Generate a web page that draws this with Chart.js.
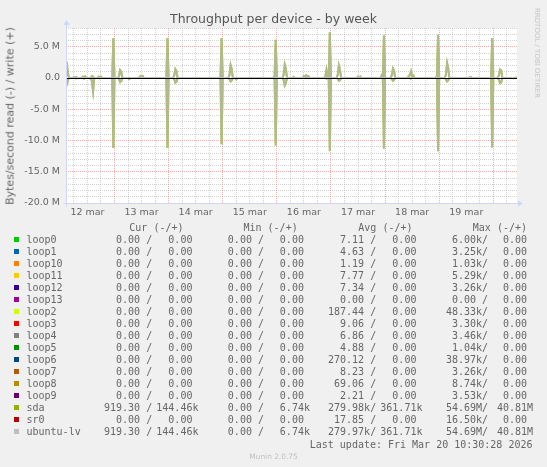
<!DOCTYPE html>
<html><head><meta charset="utf-8">
<script src="https://cdn.jsdelivr.net/npm/chart.js@4.4.1/dist/chart.umd.min.js"></script>
<style>
html,body{margin:0;padding:0;background:#F0F0F0;}
#wrap{position:relative;width:547px;height:467px;overflow:hidden;background:#F0F0F0;}
#c{position:absolute;left:0;top:0;}
.t{position:absolute;white-space:pre;color:#666;}
.mono{font-family:"DejaVu Sans Mono",monospace;font-size:10px;line-height:12px;}
.sw{position:absolute;width:5px;height:5px;}
</style></head><body>
<div id="wrap"><canvas id="c" width="547" height="467"></canvas></div>
<script>
// ---- chart data (values in millions of bytes/second) ----
const dayLabels = ['12 mar','13 mar','14 mar','15 mar','16 mar','17 mar','18 mar','19 mar'];
// hours since 12 mar 00:00 (30-minute samples around each burst; flat zero in between)
const hours = [
  2.5,3,3.5,4,  5.5,6,6.5,7,7.5,  9.5,10,10.5,11,11.5,  13,13.5,14,14.5,15,15.5,  16.5,17,17.5,18,18.5,
  23,23.5,24,  25.5,26,26.5,27,27.5,  30,30.5,31,  34.5,35,35.5,36,36.5,37,
  47,47.5,48,  50,50.5,51,51.5,52,
  71,71.5,72,  74.5,75,75.5,76,76.5,  77.5,78,78.5,
  94.5,95,95.5,96,  98.5,99,99.5,100,100.5,  103,103.5,104,  107.5,108,108.5,109,109.5,110,110.5,
  117,117.5,118,118.5,119,119.5,120,  122.5,123,123.5,124,124.5,  131.5,132,132.5,133,133.5,
  142,142.5,143,143.5,144,  146.5,147,147.5,148,148.5,  154,154.5,155,155.5,156,156.5,157,
  166.5,167,167.5,168,  170.5,171,171.5,172,172.5,  181,181.5,182,182.5,
  191,191.5,192,  194,194.5,195,195.5,196,  202,202.5
];
const sdaWriteM = [
  1.0,1.8,0.4,0,  0,0.15,0,0.15,0,  0,0.2,0.05,0.25,0,  0,0,0.3,0.2,0,0,  0,0.2,0,0.2,0,
  0,6.4,0,  0,0.3,1.25,1.0,0,  0,0,0,  0,0.1,0.3,0.15,0.3,0,
  0,6.4,0,  0,0.4,1.4,1.1,0,
  0,6.4,0,  0,0.5,2.05,1.4,0,  0,0,0,
  0,0.3,6.1,0,  0,0.5,2.15,1.5,0,  0,0.15,0,  0,0.3,0.1,0.4,0.2,0.3,0,
  0,0.2,1.3,0.2,0,7.3,0,  0,0.5,2.0,1.3,0,  0,0.2,0.05,0.2,0,
  0,0.4,0,6.8,0,  0,0.5,1.5,1.1,0,  0,0.3,0.5,1.05,0.3,0.4,0,
  0,0.3,6.9,0,  0,0.6,2.4,1.6,0,  0,0.1,0.15,0,
  0,6.4,0,  0,0.5,1.35,1.2,0,  0,0.14
];
// read magnitudes (drawn below zero)
const sdaReadM = [
  0.4,0.85,0.15,0,  0,0,0,0.05,0,  0,0,0.1,0,0,  0,0.1,0.5,2.1,0.1,0,  0,0,0,0,0,
  0,11.2,0,  0,0.15,0.65,0.5,0,  0,0.15,0,  0,0,0,0,0,0,
  0,11.2,0,  0,0.2,0.75,0.6,0,
  0,10.6,0,  0,0.2,0.55,0.4,0,  0,0.2,0,
  0,0,10.8,0,  0,0.3,1.2,0.8,0,  0,0,0,  0,0,0,0,0,0,0,
  0,0,0.1,0,0,11.7,0,  0,0.1,0.45,0.35,0,  0,0,0,0,0,
  0,0,0,11.3,0,  0,0.15,0.45,0.3,0,  0,0,0,0.1,0,0,0,
  0,0,11.7,0,  0,0.2,0.55,0.4,0,  0,0,0,0,
  0,11.1,0,  0,0.3,0.8,0.7,0,  0,0.001
];
// ubuntu-lv carries the same traffic as sda at this resolution
const lvWriteM = sdaWriteM;
const lvReadM = sdaReadM;

// ---- legend table ----
const devices = ['loop0','loop1','loop10','loop11','loop12','loop13','loop2','loop3','loop4','loop5','loop6','loop7','loop8','loop9','sda','sr0','ubuntu-lv'];
const deviceColors = ['#00CC00','#0066B3','#FF8000','#FFCC00','#330099','#990099','#CCFF00','#FF0000','#808080','#008F00','#00487D','#B35A00','#B38F00','#6B006B','#8FB300','#B30000','#BEBEBE'];
const curRead  = ['0.00','0.00','0.00','0.00','0.00','0.00','0.00','0.00','0.00','0.00','0.00','0.00','0.00','0.00','919.30','0.00','919.30'];
const curWrite = ['0.00','0.00','0.00','0.00','0.00','0.00','0.00','0.00','0.00','0.00','0.00','0.00','0.00','0.00','144.46k','0.00','144.46k'];
const minRead  = ['0.00','0.00','0.00','0.00','0.00','0.00','0.00','0.00','0.00','0.00','0.00','0.00','0.00','0.00','0.00','0.00','0.00'];
const minWrite = ['0.00','0.00','0.00','0.00','0.00','0.00','0.00','0.00','0.00','0.00','0.00','0.00','0.00','0.00','6.74k','0.00','6.74k'];
const avgRead  = ['7.11','4.63','1.19','7.77','7.34','0.00','187.44','9.06','6.86','4.88','270.12','8.23','69.06','2.21','279.98k','17.85','279.97k'];
const avgWrite = ['0.00','0.00','0.00','0.00','0.00','0.00','0.00','0.00','0.00','0.00','0.00','0.00','0.00','0.00','361.71k','0.00','361.71k'];
const maxRead  = ['6.00k','3.25k','1.03k','5.29k','3.26k','0.00','48.33k','3.30k','3.46k','1.04k','38.97k','3.26k','8.74k','3.53k','54.69M','16.50k','54.69M'];
const maxWrite = ['0.00','0.00','0.00','0.00','0.00','0.00','0.00','0.00','0.00','0.00','0.00','0.00','0.00','0.00','40.81M','0.00','40.81M'];
const colHeaders = ['Cur (-/+)','Min (-/+)','Avg (-/+)','Max (-/+)'];

// ---- HTML texts ----
const wrap = document.getElementById('wrap');
function addText(txt, cls, css){
  const d = document.createElement('div');
  d.className = 't ' + cls; d.textContent = txt;
  Object.assign(d.style, css); wrap.appendChild(d); return d;
}
addText('Throughput per device - by week','',{left:'0px',width:'547px',textAlign:'center',top:'11px',fontFamily:'"DejaVu Sans"',fontSize:'12.5px',lineHeight:'16px',color:'#555'});
addText('Bytes/second read (-) / write (+)','',{left:'10px',top:'116px',transform:'translate(-50%,-50%) rotate(-90deg)',fontFamily:'"DejaVu Sans"',fontSize:'11px',lineHeight:'13px'});
addText('RRDTOOL / TOBI OETIKER','',{left:'537px',top:'53px',transform:'translate(-50%,-50%) rotate(90deg)',fontFamily:'"DejaVu Sans"',fontSize:'7px',lineHeight:'8px',color:'#c4c4c4'});
addText('Munin 2.0.75','',{left:'0px',width:'547px',textAlign:'center',top:'452px',fontFamily:'"DejaVu Sans"',fontSize:'7.4px',lineHeight:'10px',color:'#c0c0c0'});

function tok(s, slash){
  const m = s.match(/^([\d.]+)([kM]?)$/);
  return m[1].padStart(6,' ') + (m[2] || ' ') + (slash ? '/' : '');
}
const headerX = [129.3,243.5,358.3,472.8];
const readX = [104,215.8,328,439.9];
const writeX = [156.3,267.8,380.3,490.9];
const rowY0 = 239.8, rowStep = 12;
colHeaders.forEach((h,i)=>addText(h,'mono',{left:headerX[i]+'px',top:(rowY0-rowStep-6)+'px'}));
const cols = [[curRead,curWrite],[minRead,minWrite],[avgRead,avgWrite],[maxRead,maxWrite]];
devices.forEach((name,r)=>{
  const cy = rowY0 + r*rowStep;
  const sw = document.createElement('div');
  sw.className='sw'; sw.style.left='14px'; sw.style.top=(cy-3)+'px'; sw.style.background=deviceColors[r];
  wrap.appendChild(sw);
  addText(name,'mono',{left:'26.5px',top:(cy-6)+'px'});
  cols.forEach((pair,c)=>{
    addText(tok(pair[0][r],true),'mono',{left:readX[c]+'px',top:(cy-6)+'px'});
    addText(tok(pair[1][r],false),'mono',{left:writeX[c]+'px',top:(cy-6)+'px'});
  });
});
addText('Last update: Fri Mar 20 10:30:28 2026','mono',{right:(547-532.5)+'px',top:(444.5-6)+'px'});

// ---- chart ----
const AXIS = '#CFD6F8';
const MINOR = 'rgba(150,150,150,0.42)';
const MAJOR = 'rgba(235,95,95,0.5)';
const pts = (vals, sign) => hours.map((h,i)=>({x:h, y:sign*vals[i]}));

const bgPlugin = {
  id:'bg',
  beforeDraw(chart){
    const {ctx, chartArea:a} = chart;
    ctx.save(); ctx.fillStyle='#FFFFFF';
    ctx.fillRect(a.left, a.top, a.right-a.left, a.bottom-a.top);
    ctx.restore();
  }
};
const overlayPlugin = {
  id:'overlay',
  afterDatasetsDraw(chart){
    const {ctx, chartArea:a, scales:{y}} = chart;
    ctx.save();
    const y0 = Math.round(y.getPixelForValue(0)) + 0.5;
    ctx.strokeStyle='#000'; ctx.lineWidth=1.2;
    ctx.beginPath(); ctx.moveTo(a.left, y0); ctx.lineTo(a.right, y0); ctx.stroke();
    ctx.strokeStyle=AXIS; ctx.fillStyle=AXIS; ctx.lineWidth=1;
    const lx = a.left + 0.5, by = a.bottom + 0.5;
    ctx.beginPath(); ctx.moveTo(lx, by+3); ctx.lineTo(lx, a.top-4); ctx.stroke();
    ctx.beginPath(); ctx.moveTo(lx-3, a.top-3); ctx.lineTo(lx+3, a.top-3); ctx.lineTo(lx, a.top-8); ctx.closePath(); ctx.fill();
    ctx.beginPath(); ctx.moveTo(lx-3, by); ctx.lineTo(a.right+2, by); ctx.stroke();
    ctx.beginPath(); ctx.moveTo(a.right+1, by-3); ctx.lineTo(a.right+1, by+3); ctx.lineTo(a.right+6, by); ctx.closePath(); ctx.fill();
    ctx.restore();
  }
};

new Chart(document.getElementById('c'), {
  type:'line',
  data:{datasets:[
    {label:'sda read', data:pts(sdaReadM,-1), borderColor:'#8FB300', borderWidth:2, order:2},
    {label:'sda write', data:pts(sdaWriteM,1), borderColor:'#8FB300', borderWidth:2, order:2},
    {label:'ubuntu-lv read', data:pts(lvReadM,-1), borderColor:'rgba(190,190,190,0.72)', borderWidth:2, order:1},
    {label:'ubuntu-lv write', data:pts(lvWriteM,1), borderColor:'rgba(190,190,190,0.72)', borderWidth:2, order:1}
  ]},
  options:{
    responsive:false, devicePixelRatio:1, animation:false,
    layout:{padding:{left:0, top:28, right:30, bottom:244}},
    elements:{point:{radius:0}, line:{tension:0, borderJoinStyle:'miter'}},
    plugins:{legend:{display:false}, tooltip:{enabled:false}, title:{display:false}},
    scales:{
      x:{type:'linear', min:2.5, max:202.5,
        afterBuildTicks(s){ const t=[]; for(let v=6; v<=198; v+=6) t.push({value:v}); s.ticks=t; },
        afterFit(s){ s.height=20; },
        ticks:{autoSkip:false, maxRotation:0, padding:4, color:'#666', font:{family:'DejaVu Sans', size:9.5},
          callback:(v)=> (v%24===12) ? dayLabels[(v-12)/24] : ''},
        grid:{drawTicks:false, color:(c)=> (c.tick && c.tick.value%24===0) ? MAJOR : MINOR, lineWidth:1},
        border:{display:false, dash:[1,1]}
      },
      y:{type:'linear', min:-20, max:8,
        afterBuildTicks(s){ const t=[]; for(let v=-20; v<=8; v+=1) t.push({value:v}); s.ticks=t; },
        afterFit(s){ s.width=66; },
        ticks:{autoSkip:false, padding:6, color:'#666', font:{family:'DejaVu Sans', size:9.5},
          callback:(v)=> (v%5!==0) ? '' : (v===0 ? '0.0' : v.toFixed(1)+' M')},
        grid:{drawTicks:false, color:(c)=> (c.tick && c.tick.value%5===0) ? MAJOR : MINOR, lineWidth:1},
        border:{display:false, dash:[1,1]}
      }
    }
  },
  plugins:[bgPlugin, overlayPlugin]
});
</script>
</body></html>
